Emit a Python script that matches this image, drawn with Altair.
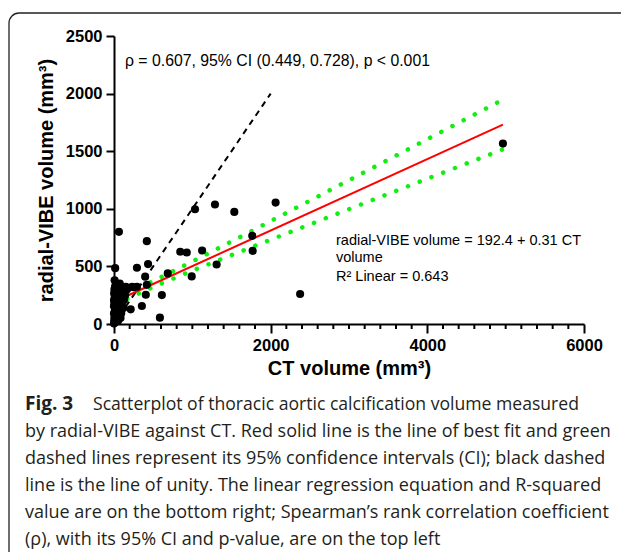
import altair as alt
import pandas as pd

# ---- scatter data (CT volume, radial-VIBE volume) ----
ct_volume = [63, 15, 1034, 1289, 1536, 2063, 419, 1765, 1770, 846, 929, 1125, 1310,
             992, 686, 293, 435, 398, 419, 406, 611, 356, 586, 213, 231, 293, 251,
             2376, 4965, 105, 147,
             0, 3, 6, 0, 12, 0, 4, 0, 9, 2, 6, 14, 22, 27, 33, 18, 38, 24, 31, 42,
             19, 36, 52, 57, 63, 48, 68, 53, 72, 61, 83, 92, 86, 101, 96, 112, 104,
             128, 152, 121, 74, 141, 44, 8, 168]
vibe_volume = [800, 485, 996, 1037, 973, 1054, 719, 765, 635, 627, 621, 638, 517,
               413, 439, 488, 520, 411, 340, 254, 251, 156, 55, 127, 323, 323, 320,
               260, 1566, 297, 318,
               5, 32, 58, 92, 118, 153, 182, 208, 243, 268, 302, 328, 18, 47, 73,
               104, 137, 166, 196, 222, 257, 283, 28, 72, 108, 151, 188, 232, 268,
               306, 52, 93, 142, 178, 221, 262, 298, 206, 322, 138, 352, 248, 338,
               380, 301]

# regression line (radial-VIBE = 192.4 + 0.31 CT) as drawn
fit_x = [170, 4965]
fit_y = [245, 1731]

# 95% confidence band as drawn (dotted green)
ci_x = [170, 500, 1000, 1500, 2000, 2500, 3000, 3500, 4000, 4500, 4965]
ci_upper = [271, 373, 542, 716, 893, 1070, 1248, 1426, 1604, 1782, 1948]
ci_lower = [219, 321, 463, 598, 732, 864, 997, 1129, 1261, 1393, 1516]

# line of unity as drawn
unity_x = [150, 2000]
unity_y = [150, 2000]

x_major = [0, 2000, 4000, 6000]
x_minor = [v for v in range(0, 6001, 200) if v % 2000 != 0]
y_ticks = [0, 500, 1000, 1500, 2000, 2500]

rho_text = "ρ = 0.607, 95% CI (0.449, 0.728), p < 0.001"
eq_lines = ["radial-VIBE volume = 192.4 + 0.31 CT", "volume", "R² Linear = 0.643"]
fig_label = "Fig. 3"
caption_first = "Scatterplot of thoracic aortic calcification volume measured"
caption_rest = [
    "by radial-VIBE against CT. Red solid line is the line of best fit and green",
    "dashed lines represent its 95% confidence intervals (CI); black dashed",
    "line is the line of unity. The linear regression equation and R-squared",
    "value are on the bottom right; Spearman’s rank correlation coefficient",
    "(ρ), with its 95% CI and p-value, are on the top left",
]

W, H = 470, 288
AX_FONT = "Liberation Sans"
CAP_FONT = "Open Sans"

pts = pd.DataFrame({"ct": ct_volume, "vibe": vibe_volume})
fit = pd.DataFrame({"ct": fit_x, "vibe": fit_y})
ci = pd.concat([
    pd.DataFrame({"ct": ci_x, "vibe": ci_upper, "band": "upper"}),
    pd.DataFrame({"ct": ci_x, "vibe": ci_lower, "band": "lower"}),
])
unity = pd.DataFrame({"ct": unity_x, "vibe": unity_y})

xscale = alt.Scale(domain=[0, 6000], nice=False, zero=False)
yscale = alt.Scale(domain=[0, 2500], nice=False, zero=False)

xaxis = alt.Axis(values=x_major, labelOverlap=False, labelFlush=False, tickSize=9,
                 labelPadding=4, grid=False, title="CT volume  (mm³)", titlePadding=5,
                 format="d")
yaxis = alt.Axis(values=y_ticks, tickSize=8, labelPadding=4, grid=False,
                 title="radial-VIBE volume (mm³)", titlePadding=9, format="d")

X = alt.X("ct:Q", scale=xscale, axis=xaxis)
Y = alt.Y("vibe:Q", scale=yscale, axis=yaxis)

border = alt.Chart(pd.DataFrame({"k": [0]})).mark_rect(
    fill=None, stroke="#222222", strokeWidth=1.3, cornerRadius=10
).encode(x=alt.value(-105), x2=alt.value(560), y=alt.value(-23), y2=alt.value(560))

unity_line = alt.Chart(unity).mark_line(color="black", strokeWidth=2, strokeDash=[6, 5]).encode(x=X, y=Y)
ci_lines = alt.Chart(ci).mark_line(color="#11ee11", strokeWidth=4.5, strokeCap="round",
                                   strokeDash=[0.1, 12.5]).encode(x=X, y=Y, detail="band:N")
fit_line = alt.Chart(fit).mark_line(color="#ff0000", strokeWidth=2).encode(x=X, y=Y)
points = alt.Chart(pts).mark_circle(color="black", opacity=1, size=66).encode(x=X, y=Y)

minor_ticks = alt.Chart(pd.DataFrame({"ct": x_minor})).mark_rule(color="black", strokeWidth=2).encode(
    x=alt.X("ct:Q", scale=xscale), y=alt.value(H), y2=alt.value(H + 5))

def txt(s, x, y, size=14, font=AX_FONT, weight="normal", color="black"):
    return alt.Chart(pd.DataFrame({"t": [s]})).mark_text(
        align="left", baseline="alphabetic", font=font, fontSize=size,
        fontWeight=weight, color=color
    ).encode(text="t:N", x=alt.value(x), y=alt.value(y))

rho = txt(rho_text, 11, 30, size=15.8)
eq = [txt(s, 222, y, size=14.5) for s, y in zip(eq_lines, [209, 226, 245])]

cap_color = "#231f20"
fig = txt(fig_label, -89, 374, size=19, font=CAP_FONT, weight="bold", color=cap_color)
cap1 = txt(caption_first, -21, 374, size=17.6, font=CAP_FONT, color=cap_color)
caps = [txt(s, -89, 401 + 27 * i, size=18, font=CAP_FONT, color=cap_color)
        for i, s in enumerate(caption_rest)]

chart = alt.layer(
    border, unity_line, ci_lines, fit_line, points, minor_ticks, rho, *eq, fig, cap1, *caps
).properties(
    width=W, height=H,
    autosize=alt.AutoSizeParams(type="none"),
    padding={"left": 106, "top": 28, "right": 37, "bottom": 228},
).configure_view(stroke=None).configure_axis(
    domainColor="black", domainWidth=2, tickColor="black", tickWidth=2,
    labelFont=AX_FONT, labelFontSize=16.5, labelFontWeight="bold", labelColor="black",
    titleFont=AX_FONT, titleFontSize=20, titleFontWeight="bold", titleColor="black",
)

chart.save("out.html", embed_options={"renderer": "svg", "actions": False})
